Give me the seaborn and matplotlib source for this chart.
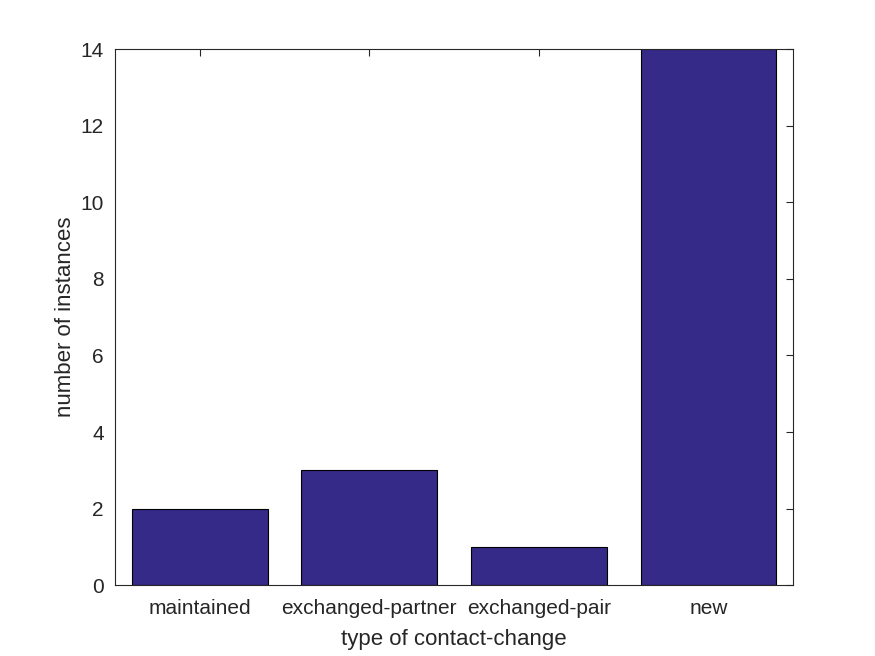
import matplotlib
matplotlib.use('Agg')
import matplotlib.pyplot as plt
import seaborn as sns
import pandas as pd

categories = ['maintained', 'exchanged-partner', 'exchanged-pair', 'new']
counts = [2, 3, 1, 14]

sns.set_style('white')
plt.rcParams['font.family'] = ['Liberation Sans', 'DejaVu Sans']
text_color = '#262626'

df = pd.DataFrame({'type': categories, 'count': counts})

fig = plt.figure(figsize=(8.75, 6.56), dpi=100)
ax = fig.add_axes([0.1314, 0.108, 0.775, 0.817])

sns.barplot(data=df, x='type', y='count', color='#352a87', saturation=1,
            width=0.8, edgecolor='black', linewidth=0.8, ax=ax)

ax.set_xlim(-0.5, 3.5)
ax.set_ylim(0, 14)
ax.set_yticks(range(0, 15, 2))
ax.set_xlabel('type of contact-change', fontsize=16, color=text_color, labelpad=8)
ax.set_ylabel('number of instances', fontsize=16, color=text_color, labelpad=3)
ax.tick_params(direction='in', length=5, width=0.8, colors=text_color,
               labelsize=15, top=True, right=True)
ax.tick_params(axis='x', pad=10)
ax.tick_params(axis='y', pad=8)
for s in ax.spines.values():
    s.set_visible(True)
    s.set_color(text_color)
    s.set_linewidth(0.8)

fig.savefig('out.png', dpi=100)
